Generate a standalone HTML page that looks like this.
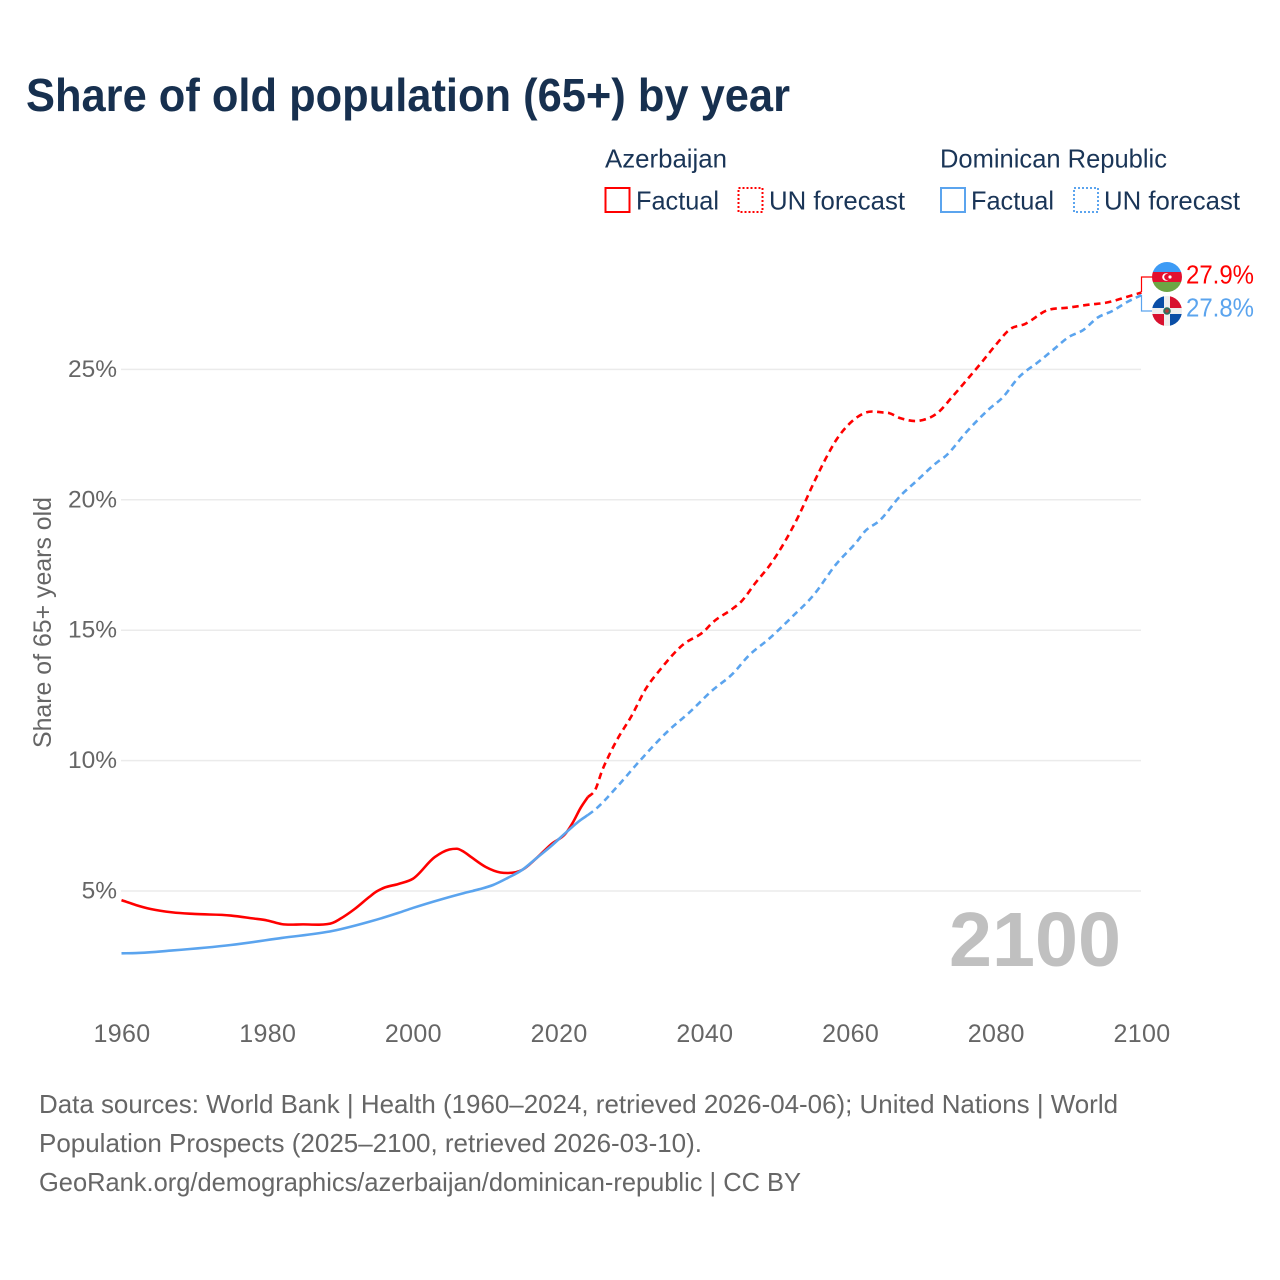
<!DOCTYPE html>
<html lang="en">
<head>
<meta charset="utf-8">
<title>Share of old population (65+) by year</title>
<style>
html,body{margin:0;padding:0;background:#fff;}
svg{display:block;font-family:"Liberation Sans",sans-serif;}
.legend-text{font-size:26px;fill:#1a3557;}
.foot{font-size:26px;fill:#666;}
</style>
</head>
<body>
<svg id="chart" width="1280" height="1280" viewBox="0 0 1280 1280" xmlns="http://www.w3.org/2000/svg">
  <defs>
    <clipPath id="clip-az"><circle cx="1167" cy="277" r="15"/></clipPath>
    <clipPath id="clip-do"><circle cx="1167" cy="311" r="15"/></clipPath>
  </defs>
  <rect width="1280" height="1280" fill="#fff"/>
  <text x="26" y="111" font-size="46" font-weight="700" fill="#17304f" textLength="764" lengthAdjust="spacingAndGlyphs">Share of old population (65+) by year</text>

  <g>
    <text class="legend-text" x="605" y="167.5" textLength="122" lengthAdjust="spacingAndGlyphs">Azerbaijan</text>
    <rect x="605.5" y="188" width="24" height="24" fill="none" stroke="#ff0000" stroke-width="2"/>
    <text class="legend-text" x="636" y="209.5" textLength="83" lengthAdjust="spacingAndGlyphs">Factual</text>
    <rect x="738.5" y="188" width="24" height="24" fill="none" stroke="#ff0000" stroke-width="2" stroke-dasharray="2 2"/>
    <text class="legend-text" x="769" y="209.5" textLength="136" lengthAdjust="spacingAndGlyphs">UN forecast</text>
    <text class="legend-text" x="940" y="167.5" textLength="227" lengthAdjust="spacingAndGlyphs">Dominican Republic</text>
    <rect x="941" y="188" width="24" height="24" fill="none" stroke="#5ba4ee" stroke-width="2"/>
    <text class="legend-text" x="971" y="209.5" textLength="83" lengthAdjust="spacingAndGlyphs">Factual</text>
    <rect x="1074" y="188" width="24" height="24" fill="none" stroke="#5ba4ee" stroke-width="2" stroke-dasharray="2 2"/>
    <text class="legend-text" x="1104" y="209.5" textLength="136" lengthAdjust="spacingAndGlyphs">UN forecast</text>
  </g>

  <text transform="translate(51,622.5) rotate(-90)" text-anchor="middle" font-size="25" fill="#666" textLength="251" lengthAdjust="spacingAndGlyphs">Share of 65+ years old</text>

  <g id="grid"></g>
  <g id="yticks"></g>
  <g id="xticks"></g>

  <text x="1121" y="966" text-anchor="end" font-size="77" font-weight="700" fill="#c0c0c0" textLength="172" lengthAdjust="spacingAndGlyphs">2100</text>

  <g id="series"></g>

  <path d="M1141.5 292V277H1153" fill="none" stroke="#ff0000" stroke-width="1.2"/>
  <path d="M1141.5 295V311H1153" fill="none" stroke="#5ba4ee" stroke-width="1.2"/>

  <g clip-path="url(#clip-az)">
    <rect x="1152" y="262" width="30" height="10" fill="#3d9bf5"/>
    <rect x="1152" y="272" width="30" height="10" fill="#e3102f"/>
    <rect x="1152" y="282" width="30" height="10" fill="#6ca644"/>
    <circle cx="1166" cy="277" r="3.8" fill="#fff"/>
    <circle cx="1167.3" cy="277" r="3.1" fill="#e3102f"/>
    <circle cx="1170" cy="277" r="1.6" fill="#fff"/>
  </g>
  <g clip-path="url(#clip-do)">
    <rect x="1152" y="296" width="30" height="30" fill="#eeeeee"/>
    <rect x="1152" y="296" width="12" height="12" fill="#0a4ea6"/>
    <rect x="1170" y="296" width="12" height="12" fill="#d8112f"/>
    <rect x="1152" y="314" width="12" height="12" fill="#d8112f"/>
    <rect x="1170" y="314" width="12" height="12" fill="#0a4ea6"/>
    <circle cx="1167" cy="311" r="3.8" fill="#2f6f5e"/>
    <circle cx="1167" cy="311" r="1.8" fill="#b33a3a"/>
  </g>

  <text x="1186" y="283.5" font-size="26" fill="#ff0000" textLength="68" lengthAdjust="spacingAndGlyphs">27.9%</text>
  <text x="1186" y="316.5" font-size="26" fill="#5ba4ee" textLength="68" lengthAdjust="spacingAndGlyphs">27.8%</text>

  <text class="foot" x="39" y="1113" textLength="1079" lengthAdjust="spacingAndGlyphs">Data sources: World Bank | Health (1960–2024, retrieved 2026-04-06); United Nations | World</text>
  <text class="foot" x="39" y="1152" textLength="663" lengthAdjust="spacingAndGlyphs">Population Prospects (2025–2100, retrieved 2026-03-10).</text>
  <text class="foot" x="39" y="1191" textLength="762" lengthAdjust="spacingAndGlyphs">GeoRank.org/demographics/azerbaijan/dominican-republic | CC BY</text>
</svg>
<script>
const xTickYears = [1960, 1980, 2000, 2020, 2040, 2060, 2080, 2100];
const yTickValues = [5, 10, 15, 20, 25];

const azFactualYears = [1960,1962,1964,1967,1970,1975,1978,1980,1982,1985,1987,1989,1990,1992,1994,1995,1996,1998,2000,2003,2005,2006,2007,2008,2010,2012,2013,2015,2017,2019,2021,2022,2023,2024];
const azFactualValues = [4.65,4.46,4.31,4.18,4.12,4.06,3.95,3.87,3.73,3.72,3.71,3.78,3.93,4.31,4.77,4.98,5.12,5.27,5.47,6.3,6.59,6.62,6.5,6.3,5.92,5.71,5.69,5.81,6.27,6.8,7.22,7.65,8.18,8.6];

const azForecastYears = [2024,2025,2026,2027,2028,2030,2032,2034,2037,2040,2041,2044,2045,2047,2049,2053,2055,2057,2058,2060,2062,2065,2067,2069,2070,2072,2074,2076,2078,2080,2082,2084,2087,2090,2093,2095,2098,2100];
const azForecastValues = [8.6,8.87,9.64,10.25,10.79,11.71,12.77,13.51,14.43,14.97,15.26,15.85,16.08,16.81,17.5,19.42,20.64,21.76,22.25,22.94,23.33,23.34,23.12,23.02,23.06,23.33,23.94,24.59,25.25,25.94,26.55,26.74,27.26,27.37,27.49,27.55,27.78,27.95];

const doFactualYears = [1960,1962,1967,1975,1982,1989,1994,1998,2000,2004,2007,2009,2011,2013,2015,2017,2019,2021,2023,2024];
const doFactualValues = [2.61,2.62,2.72,2.93,3.2,3.47,3.82,4.16,4.35,4.69,4.92,5.06,5.23,5.5,5.81,6.27,6.73,7.24,7.72,7.91];

const doForecastYears = [2024,2025,2028,2031,2035,2038,2041,2044,2046,2049,2052,2055,2058,2061,2062,2064,2067,2069,2072,2073,2076,2079,2081,2083,2086,2088,2090,2092,2094,2096,2098,2100];
const doForecastValues = [7.91,8.12,8.99,9.95,11.13,11.86,12.67,13.36,14.0,14.7,15.5,16.35,17.5,18.42,18.78,19.19,20.18,20.69,21.45,21.65,22.61,23.46,23.94,24.65,25.32,25.78,26.24,26.51,26.99,27.24,27.58,27.85];

const NS = 'http://www.w3.org/2000/svg';
function xScale(year) { return 121.5 + (year - 1960) * (1020 / 140); }
function yScale(value) { return 891 - (value - 5) * 26.08; }

function smoothPath(years, values) {
  const xs = years.map(xScale);
  const ys = values.map(yScale);
  const n = xs.length;
  const slopes = [];
  for (let i = 0; i < n - 1; i++) slopes.push((ys[i + 1] - ys[i]) / (xs[i + 1] - xs[i]));
  const tangents = [slopes[0]];
  for (let i = 1; i < n - 1; i++) {
    if (slopes[i - 1] * slopes[i] <= 0) {
      tangents.push(0);
    } else {
      const h0 = xs[i] - xs[i - 1];
      const h1 = xs[i + 1] - xs[i];
      tangents.push((slopes[i - 1] * h1 + slopes[i] * h0) / (h0 + h1));
    }
  }
  tangents.push(slopes[n - 2]);
  let d = 'M' + xs[0].toFixed(2) + ' ' + ys[0].toFixed(2);
  for (let i = 0; i < n - 1; i++) {
    const h = (xs[i + 1] - xs[i]) / 3;
    d += 'C' + (xs[i] + h).toFixed(2) + ' ' + (ys[i] + tangents[i] * h).toFixed(2) + ' ' +
      (xs[i + 1] - h).toFixed(2) + ' ' + (ys[i + 1] - tangents[i + 1] * h).toFixed(2) + ' ' +
      xs[i + 1].toFixed(2) + ' ' + ys[i + 1].toFixed(2);
  }
  return d;
}

const gridGroup = document.getElementById('grid');
const yTickGroup = document.getElementById('yticks');
const xTickGroup = document.getElementById('xticks');
const seriesGroup = document.getElementById('series');

yTickValues.forEach(function (value) {
  const line = document.createElementNS(NS, 'line');
  
  
  line.setAttribute('x1', 121);
  line.setAttribute('x2', 1141);
  line.setAttribute('y1', yScale(value));
  line.setAttribute('y2', yScale(value));
  line.setAttribute('stroke', '#ebebeb');
  line.setAttribute('stroke-width', '1.5');
  gridGroup.appendChild(line);

  const label = document.createElementNS(NS, 'text');
  
  
  label.setAttribute('x', 117);
  label.setAttribute('y', yScale(value) + 7.5);
  label.setAttribute('text-anchor', 'end');
  label.setAttribute('font-size', '24.5');
  label.setAttribute('fill', '#666');
  label.textContent = value + '%';
  yTickGroup.appendChild(label);
});

xTickYears.forEach(function (year) {
  const label = document.createElementNS(NS, 'text');
  
  
  label.setAttribute('x', xScale(year) + 0.5);
  label.setAttribute('y', 1042);
  label.setAttribute('text-anchor', 'middle');
  label.setAttribute('font-size', '25');
  label.setAttribute('letter-spacing', '0.35');
  label.setAttribute('fill', '#666');
  label.textContent = year;
  xTickGroup.appendChild(label);
});

function addLine(name, years, values, color, dash) {
  const path = document.createElementNS(NS, 'path');
  
  
  path.setAttribute('d', smoothPath(years, values));
  path.setAttribute('fill', 'none');
  path.setAttribute('stroke', color);
  path.setAttribute('stroke-width', '2.6');
  path.setAttribute('stroke-linejoin', 'round');
  if (dash) path.setAttribute('stroke-dasharray', dash);
  seriesGroup.appendChild(path);
}

addLine('azerbaijan-forecast-line', azForecastYears, azForecastValues, '#ff0000', '6.5 4.5');
addLine('dominican-forecast-line', doForecastYears, doForecastValues, '#5ba4ee', '6.5 4.5');
addLine('azerbaijan-factual-line', azFactualYears, azFactualValues, '#ff0000', null);
addLine('dominican-factual-line', doFactualYears, doFactualValues, '#5ba4ee', null);
</script>
</body>
</html>
